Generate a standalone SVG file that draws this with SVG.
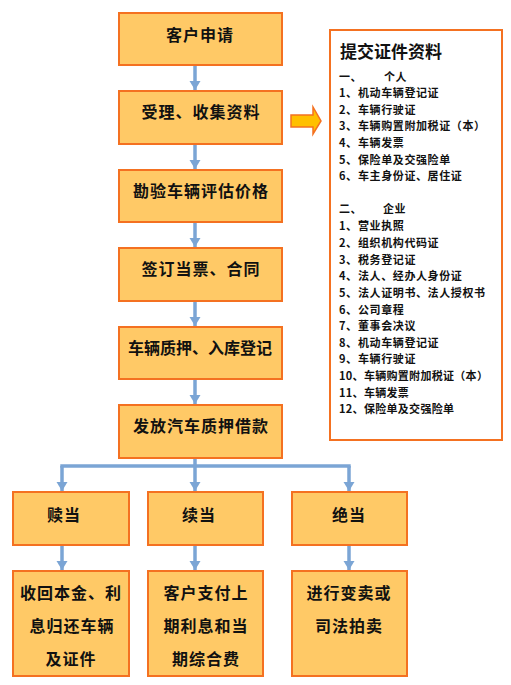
<svg xmlns="http://www.w3.org/2000/svg" width="511" height="685" viewBox="0 0 511 685">
<defs>
<style>
.box{fill:#FFC966;stroke:#F47121;stroke-width:2}
.t{font-family:"Noto Sans CJK SC","Noto Sans CJK JP",sans-serif;font-size:16px;font-weight:bold;fill:#111;text-anchor:middle;letter-spacing:1px}
.l{font-family:"Noto Sans CJK SC","Noto Sans CJK JP",sans-serif;font-size:11px;font-weight:bold;fill:#111;letter-spacing:0.6px}
.ti{font-family:"Noto Sans CJK SC","Noto Sans CJK JP",sans-serif;font-size:17px;font-weight:bold;fill:#111}
.c{fill:none;stroke:#7BA5D5;stroke-width:3.5}
</style>
<marker id="ah" markerUnits="userSpaceOnUse" markerWidth="12" markerHeight="10" refX="6" refY="9" orient="0" viewBox="0 0 12 10">
<path d="M0.5,0 L11.5,0 L6,9 Z" fill="#7BA5D5"/>
</marker>
</defs>
<rect width="511" height="685" fill="#fff"/>
<g id="connectors">
<line class="c" x1="195" y1="65" x2="195" y2="90" marker-end="url(#ah)"/>
<line class="c" x1="195" y1="144" x2="195" y2="169" marker-end="url(#ah)"/>
<line class="c" x1="195" y1="222" x2="195" y2="247" marker-end="url(#ah)"/>
<line class="c" x1="195" y1="301" x2="195" y2="326" marker-end="url(#ah)"/>
<line class="c" x1="195" y1="379" x2="195" y2="404" marker-end="url(#ah)"/>
<line class="c" x1="60.3" y1="466" x2="350.7" y2="466"/>
<line class="c" x1="62" y1="466" x2="62" y2="491" marker-end="url(#ah)"/>
<line class="c" x1="195" y1="458" x2="195" y2="491" marker-end="url(#ah)"/>
<line class="c" x1="349" y1="466" x2="349" y2="491" marker-end="url(#ah)"/>
<line class="c" x1="62" y1="545" x2="62" y2="570" marker-end="url(#ah)"/>
<line class="c" x1="195" y1="545" x2="195" y2="570" marker-end="url(#ah)"/>
<line class="c" x1="349" y1="545" x2="349" y2="570" marker-end="url(#ah)"/>
<path d="M291,115 L313,115 L313,107 L321,121 L313,134 L313,127 L291,127 Z" fill="#FFC000" stroke="#F47121" stroke-width="1.5"/>
</g>
<g id="n1"><rect class="box" x="119" y="13" width="163" height="52"/><text class="t" x="200" y="41">客户申请</text></g>
<g id="n2"><rect class="box" x="119" y="91" width="163" height="53"/><text class="t" x="201" y="118">受理、收集资料</text></g>
<g id="n3"><rect class="box" x="119" y="170" width="163" height="52"/><text class="t" x="201" y="197">勘验车辆评估价格</text></g>
<g id="n4"><rect class="box" x="119" y="248" width="163" height="53"/><text class="t" x="201" y="275">签订当票、合同</text></g>
<g id="n5"><rect class="box" x="119" y="327" width="163" height="52"/><text class="t" x="200" y="354" style="letter-spacing:0">车辆质押、入库登记</text></g>
<g id="n6"><rect class="box" x="119" y="405" width="163" height="53"/><text class="t" x="201" y="432">发放汽车质押借款</text></g>
<g id="b1"><rect class="box" x="13" y="492" width="116" height="53"/><text class="t" x="64" y="521">赎当</text></g>
<g id="b2"><rect class="box" x="148" y="492" width="115" height="53"/><text class="t" x="199" y="521">续当</text></g>
<g id="b3"><rect class="box" x="292" y="492" width="115" height="53"/><text class="t" x="349" y="521">绝当</text></g>
<g id="c1"><rect class="box" x="13" y="571" width="116" height="105"/><text class="t" x="71" y="599">收回本金、利</text><text class="t" x="72" y="632">息归还车辆</text><text class="t" x="71" y="665">及证件</text></g>
<g id="c2"><rect class="box" x="148" y="571" width="115" height="105"/><text class="t" x="206" y="599">客户支付上</text><text class="t" x="206" y="632">期利息和当</text><text class="t" x="206" y="665">期综合费</text></g>
<g id="c3"><rect class="box" x="292" y="571" width="115" height="105"/><text class="t" x="349" y="599">进行变卖或</text><text class="t" x="349" y="632">司法拍卖</text></g>
<g id="docs">
<rect x="330" y="30" width="172" height="410" fill="#fff" stroke="#F47121" stroke-width="2"/>
<text class="ti" x="340" y="58">提交证件资料</text>
<text class="l" x="339" y="81">一、</text><text class="l" x="384" y="81">个人</text>
<text class="l" x="339" y="97">1、</text><text class="l" x="358" y="97">机动车辆登记证</text>
<text class="l" x="339" y="114">2、</text><text class="l" x="358" y="114">车辆行驶证</text>
<text class="l" x="339" y="130">3、</text><text class="l" x="358" y="130">车辆购置附加税证（本）</text>
<text class="l" x="339" y="147">4、</text><text class="l" x="358" y="147">车辆发票</text>
<text class="l" x="339" y="164">5、</text><text class="l" x="358" y="164">保险单及交强险单</text>
<text class="l" x="339" y="180">6、</text><text class="l" x="358" y="180">车主身份证、居住证</text>
<text class="l" x="339" y="213">二、</text><text class="l" x="383" y="213">企业</text>
<text class="l" x="339" y="230">1、</text><text class="l" x="358" y="230">营业执照</text>
<text class="l" x="339" y="247">2、</text><text class="l" x="358" y="247">组织机构代码证</text>
<text class="l" x="339" y="264">3、</text><text class="l" x="358" y="264">税务登记证</text>
<text class="l" x="339" y="280">4、</text><text class="l" x="358" y="280">法人、经办人身份证</text>
<text class="l" x="339" y="297">5、</text><text class="l" x="358" y="297">法人证明书、法人授权书</text>
<text class="l" x="339" y="314">6、</text><text class="l" x="358" y="314">公司章程</text>
<text class="l" x="339" y="330">7、</text><text class="l" x="358" y="330">董事会决议</text>
<text class="l" x="339" y="347">8、</text><text class="l" x="358" y="347">机动车辆登记证</text>
<text class="l" x="339" y="363">9、</text><text class="l" x="358" y="363">车辆行驶证</text>
<text class="l" x="339" y="380" style="letter-spacing:0.3px">10、车辆购置附加税证（本）</text>
<text class="l" x="339" y="397" style="letter-spacing:0.3px">11、车辆发票</text>
<text class="l" x="339" y="413" style="letter-spacing:0.3px">12、保险单及交强险单</text>
</g>
</svg>
